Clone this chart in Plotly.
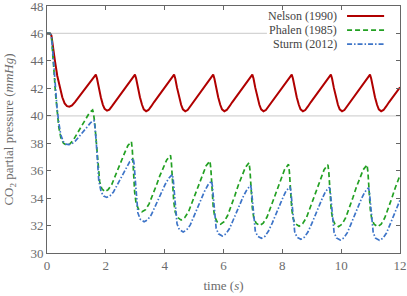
import plotly.graph_objects as go

# ---------------- data ----------------
nelson_t = [0.00, 0.10, 0.15, 0.20, 0.27, 0.35, 0.44, 0.52, 0.60, 0.68, 0.76, 0.85, 0.95,
            1.66, 1.70, 1.76, 1.83, 1.90, 1.96, 2.04, 2.12, 2.21, 2.31,
            2.99, 3.03, 3.09, 3.16, 3.23, 3.29, 3.37, 3.45, 3.54, 3.64,
            4.32, 4.36, 4.42, 4.49, 4.56, 4.62, 4.70, 4.78, 4.87, 4.97,
            5.65, 5.69, 5.75, 5.82, 5.89, 5.95, 6.03, 6.11, 6.20, 6.30,
            6.98, 7.02, 7.08, 7.15, 7.22, 7.28, 7.36, 7.44, 7.53, 7.63,
            8.32, 8.36, 8.42, 8.49, 8.56, 8.62, 8.70, 8.78, 8.87, 8.97,
            9.65, 9.69, 9.75, 9.82, 9.89, 9.95, 10.03, 10.11, 10.20, 10.30,
            10.98, 11.02, 11.08, 11.15, 11.22, 11.28, 11.36, 11.44, 11.53, 11.63,
            12.00]
nelson_v = [46.0, 46.0, 45.85, 45.2, 44.0, 42.9, 42.0, 41.35, 40.9, 40.7, 40.66, 40.75, 41.0,
            43.0, 42.72, 42.05, 41.35, 40.8, 40.5, 40.37, 40.45, 40.7, 41.0,
            43.0, 42.72, 42.05, 41.35, 40.8, 40.47, 40.33, 40.42, 40.68, 41.0,
            43.0, 42.72, 42.05, 41.35, 40.8, 40.47, 40.33, 40.42, 40.68, 41.0,
            43.0, 42.72, 42.05, 41.35, 40.8, 40.47, 40.33, 40.42, 40.68, 41.0,
            43.0, 42.72, 42.05, 41.35, 40.8, 40.47, 40.33, 40.42, 40.68, 41.0,
            43.0, 42.72, 42.05, 41.35, 40.8, 40.47, 40.33, 40.42, 40.68, 41.0,
            43.0, 42.72, 42.05, 41.35, 40.8, 40.47, 40.33, 40.42, 40.68, 41.0,
            43.0, 42.72, 42.05, 41.35, 40.8, 40.47, 40.33, 40.42, 40.68, 41.0,
            42.08]

phalen_t = [0.00, 0.10, 0.15, 0.18, 0.21, 0.25, 0.29, 0.34, 0.40, 0.47, 0.56, 0.67,
            0.78, 0.89, 1.00, 1.11, 1.22, 1.33, 1.44,
            1.55, 1.58, 1.62, 1.66, 1.70, 1.74, 1.79, 1.86, 1.97,
            2.08, 2.20, 2.31, 2.42, 2.53, 2.65, 2.75,
            2.87, 2.90, 2.94, 2.98, 3.03, 3.11, 3.23,
            3.35, 3.47, 3.60, 3.72, 3.83, 3.96, 4.07,
            4.20, 4.23, 4.27, 4.31, 4.36, 4.44, 4.56,
            4.68, 4.81, 4.93, 5.05, 5.17, 5.30, 5.41,
            5.54, 5.57, 5.61, 5.65, 5.70, 5.78, 5.90,
            6.02, 6.14, 6.27, 6.39, 6.50, 6.63, 6.74,
            6.87, 6.90, 6.94, 6.98, 7.03, 7.11, 7.23,
            7.35, 7.48, 7.60, 7.72, 7.84, 7.97, 8.08,
            8.21, 8.24, 8.28, 8.32, 8.37, 8.45, 8.57,
            8.69, 8.82, 8.94, 9.06, 9.18, 9.31, 9.42,
            9.55, 9.58, 9.62, 9.66, 9.71, 9.79, 9.91,
            10.03, 10.15, 10.28, 10.40, 10.51, 10.64, 10.75,
            10.88, 10.91, 10.95, 10.99, 11.04, 11.12, 11.24,
            11.36, 11.48, 11.61, 11.73, 11.84, 11.97, 12.00]
phalen_v = [46.0, 46.0, 45.8, 45.1, 44.1, 42.9, 41.6, 40.3, 39.2, 38.4, 38.0, 37.85,
            37.95, 38.21, 38.62, 39.06, 39.47, 39.88, 40.21,
            40.42, 40.2, 39.5, 38.5, 37.3, 36.1, 35.2, 34.7, 34.47,
            34.62, 34.98, 35.57, 36.19, 36.77, 37.35, 37.83,
            38.12, 37.51, 35.97, 34.43, 33.61, 33.2, 33.0,
            33.16, 33.58, 34.24, 34.94, 35.60, 36.25, 36.79,
            37.12, 36.55, 35.14, 33.72, 32.97, 32.59, 32.4,
            32.57, 33.0, 33.69, 34.42, 35.11, 35.80, 36.36,
            36.7, 36.15, 34.77, 33.39, 32.65, 32.28, 32.1,
            32.28, 32.73, 33.44, 34.21, 34.92, 35.64, 36.22,
            36.58, 36.03, 34.66, 33.28, 32.55, 32.18, 32.0,
            32.18, 32.62, 33.34, 34.10, 34.81, 35.52, 36.10,
            36.46, 35.92, 34.57, 33.21, 32.49, 32.13, 31.95,
            32.13, 32.58, 33.29, 34.06, 34.77, 35.49, 36.07,
            36.43, 35.89, 34.54, 33.18, 32.46, 32.10, 31.92,
            32.10, 32.55, 33.27, 34.04, 34.76, 35.48, 36.07,
            36.43, 35.89, 34.54, 33.18, 32.46, 32.10, 31.92,
            32.10, 32.55, 33.27, 34.04, 34.76, 35.48, 35.66]

sturm_t = [0.00, 0.10, 0.15, 0.18, 0.21, 0.25, 0.29, 0.34, 0.40, 0.47, 0.56, 0.65, 0.75,
           0.85, 0.96, 1.07, 1.18, 1.28, 1.39, 1.49,
           1.60, 1.63, 1.67, 1.71, 1.76, 1.84, 1.93, 2.03,
           2.14, 2.26, 2.37, 2.48, 2.59, 2.71, 2.81,
           2.93, 2.96, 3.00, 3.04, 3.09, 3.17, 3.30,
           3.42, 3.54, 3.66, 3.78, 3.90, 4.02, 4.14,
           4.26, 4.29, 4.33, 4.37, 4.42, 4.50, 4.63,
           4.75, 4.87, 4.99, 5.11, 5.23, 5.35, 5.47,
           5.59, 5.62, 5.66, 5.70, 5.75, 5.83, 5.96,
           6.08, 6.20, 6.32, 6.44, 6.56, 6.68, 6.80,
           6.92, 6.95, 6.99, 7.03, 7.08, 7.16, 7.29,
           7.41, 7.53, 7.66, 7.78, 7.89, 8.02, 8.13,
           8.26, 8.29, 8.33, 8.37, 8.42, 8.50, 8.63,
           8.75, 8.87, 9.00, 9.12, 9.23, 9.36, 9.47,
           9.60, 9.63, 9.67, 9.71, 9.76, 9.84, 9.97,
           10.09, 10.21, 10.33, 10.45, 10.57, 10.69, 10.81,
           10.93, 10.96, 11.00, 11.04, 11.09, 11.17, 11.30,
           11.42, 11.54, 11.66, 11.78, 11.90, 12.00]
sturm_v = [46.0, 46.0, 45.85, 45.25, 44.35, 43.2, 41.9, 40.6, 39.5, 38.6, 38.1, 37.93, 37.9,
           37.97, 38.15, 38.43, 38.72, 39.0, 39.28, 39.51,
           39.65, 39.2, 38.2, 36.6, 35.3, 34.45, 34.15, 34.05,
           34.16, 34.45, 34.90, 35.38, 35.83, 36.29, 36.65,
           36.88, 36.51, 35.36, 33.89, 32.92, 32.46, 32.28,
           32.42, 32.76, 33.32, 33.90, 34.45, 35.01, 35.45,
           35.73, 35.39, 34.34, 33.0, 32.12, 31.70, 31.53,
           31.68, 32.05, 32.65, 33.28, 33.87, 34.47, 34.95,
           35.25, 34.93, 33.93, 32.64, 31.80, 31.40, 31.24,
           31.39, 31.76, 32.35, 32.97, 33.56, 34.16, 34.63,
           34.93, 34.62, 33.66, 32.42, 31.61, 31.22, 31.07,
           31.22, 31.60, 32.20, 32.84, 33.44, 34.04, 34.53,
           34.83, 34.52, 33.57, 32.34, 31.54, 31.15, 31.0,
           31.15, 31.53, 32.14, 32.78, 33.39, 33.99, 34.49,
           34.79, 34.48, 33.52, 32.29, 31.49, 31.10, 30.95,
           31.10, 31.48, 32.09, 32.74, 33.35, 33.96, 34.46,
           34.76, 34.45, 33.50, 32.27, 31.47, 31.08, 30.93,
           31.08, 31.46, 32.07, 32.72, 33.33, 33.85]

series_names = ["Nelson (1990)", "Phalen (1985)", "Sturm (2012)"]
x_ticks = [0, 2, 4, 6, 8, 10, 12]
y_ticks = [30, 32, 34, 36, 38, 40, 42, 44, 46, 48]
grid_levels = [40, 46]

# ---------------- styles ----------------
colors = ["#b00000", "#22a022", "#3d74c8"]
dashes = ["solid", "5px,3px", "5px,2px,1.5px,2px"]
widths = [2.0, 1.7, 1.7]
FONT = "Liberation Serif"
GRAY = "#6b6b6b"

fig = go.Figure()
for (tx, vy), name, c, d, w in zip(
        [(nelson_t, nelson_v), (phalen_t, phalen_v), (sturm_t, sturm_v)],
        series_names, colors, dashes, widths):
    fig.add_trace(go.Scatter(x=tx, y=vy, mode="lines", name=name,
                             line=dict(color=c, dash=d, width=w),
                             showlegend=False))

# light horizontal reference lines (the one at 46 stops where the legend box begins)
shapes = [
    dict(type="line", xref="paper", yref="y", x0=0, x1=1, y0=grid_levels[0], y1=grid_levels[0],
         line=dict(color="#d4d4d4", width=1.2), layer="below"),
    dict(type="line", xref="paper", yref="y", x0=0, x1=0.623, y0=grid_levels[1], y1=grid_levels[1],
         line=dict(color="#d4d4d4", width=1.2), layer="below"),
]

# manual legend: text on the left, line sample on the right
leg_y = [0.960, 0.902, 0.846]
annotations = []
for name, c, d, w, yy in zip(series_names, colors, dashes, widths, leg_y):
    annotations.append(dict(xref="paper", yref="paper", x=0.826, y=yy, text=name,
                            showarrow=False, xanchor="right", yanchor="middle",
                            font=dict(family=FONT, size=12, color="#444")))
    shapes.append(dict(type="line", xref="paper", yref="paper", x0=0.850, x1=0.955,
                       y0=yy, y1=yy, line=dict(color=c, dash=d, width=w)))

axis_common = dict(showline=True, linecolor="#666", linewidth=1, mirror="ticks",
                   ticks="inside", ticklen=4, tickcolor="#666", showgrid=False,
                   zeroline=False, automargin=False, ticklabeloverflow="allow",
                   tickfont=dict(family=FONT, size=13, color=GRAY))

fig.update_layout(
    width=407, height=296,
    margin=dict(l=47, r=7, t=6, b=43),
    paper_bgcolor="white", plot_bgcolor="white",
    xaxis=dict(range=[0, 12], tickvals=x_ticks,
               title=dict(text="time (<i>s</i>)", standoff=9,
                          font=dict(family=FONT, size=13, color=GRAY)),
               **axis_common),
    yaxis=dict(range=[30, 48], tickvals=y_ticks,
               title=dict(text="CO<sub>2</sub> partial pressure (<i>mmHg</i>)", standoff=13,
                          font=dict(family=FONT, size=13, color=GRAY)),
               **axis_common),
    shapes=shapes, annotations=annotations, showlegend=False,
)

fig.write_html("out.html", config={"displayModeBar": False},
               post_script="document.body.style.margin='0';document.body.style.overflow='hidden';")
